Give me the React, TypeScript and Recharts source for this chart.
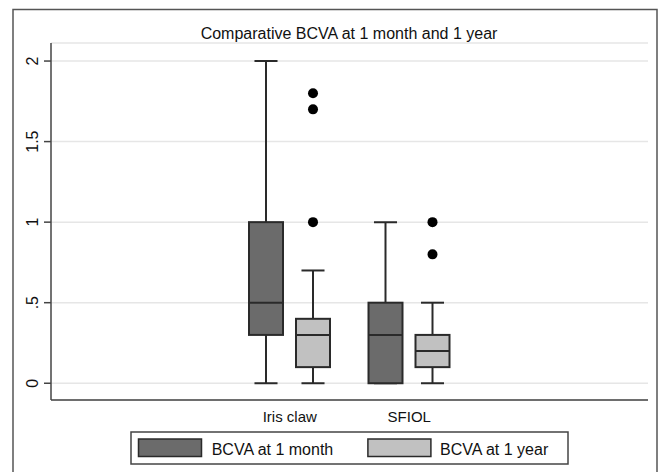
import { Bar, CartesianGrid, ComposedChart, XAxis, YAxis } from "recharts"

const categories = ["Iris claw", "SFIOL"]

// BCVA at 1 month
const monthMin = [0, 0]
const monthQ1 = [0.3, 0]
const monthMedian = [0.5, 0.3]
const monthQ3 = [1.0, 0.5]
const monthMax = [2.0, 1.0]
const monthOutliers: number[][] = [[], []]

// BCVA at 1 year
const yearMin = [0, 0]
const yearQ1 = [0.1, 0.1]
const yearMedian = [0.3, 0.2]
const yearQ3 = [0.4, 0.3]
const yearMax = [0.7, 0.5]
const yearOutliers: number[][] = [[1.0, 1.7, 1.8], [0.8, 1.0]]

const yTicks = [0, 0.5, 1, 1.5, 2]
const seriesNames = ["BCVA at 1 month", "BCVA at 1 year"]
const seriesColors = ["#6b6b6b", "#c1c1c1"]
const title = "Comparative BCVA at 1 month and 1 year"

const FONT = "'Liberation Sans', Arial, Helvetica, sans-serif"
const INK = "#2a2a2a"

const data = categories.map((name, i) => ({
  name,
  month: {
    min: monthMin[i], q1: monthQ1[i], median: monthMedian[i],
    q3: monthQ3[i], max: monthMax[i], outliers: monthOutliers[i],
  },
  year: {
    min: yearMin[i], q1: yearQ1[i], median: yearMedian[i],
    q3: yearQ3[i], max: yearMax[i], outliers: yearOutliers[i],
  },
}))

// stata style: drop the leading zero
const fmt = (v: number) => (v === 0 ? "0" : String(v).replace(/^0\./, "."))

function BoxShape(props: any) {
  const { x, y, width, height, payload, fill, statKey } = props
  const s = payload[statKey]
  // the bar spans [min, max] on the y scale, so every stat maps linearly inside it
  const toY = (v: number) => y + (height * (s.max - v)) / (s.max - s.min)
  const cx = x + width / 2
  const cap = width * 0.32
  const top = toY(s.q3)
  const bottom = toY(s.q1)

  return (
    <g>
      <line x1={cx} x2={cx} y1={toY(s.max)} y2={top} stroke={INK} strokeWidth={2} />
      <line x1={cx} x2={cx} y1={bottom} y2={toY(s.min)} stroke={INK} strokeWidth={2} />
      <line x1={cx - cap} x2={cx + cap} y1={toY(s.max)} y2={toY(s.max)} stroke={INK} strokeWidth={2} />
      <line x1={cx - cap} x2={cx + cap} y1={toY(s.min)} y2={toY(s.min)} stroke={INK} strokeWidth={2} />
      <rect x={x + 1} y={top} width={width - 2} height={bottom - top} fill={fill} stroke={INK} strokeWidth={2} />
      <line x1={x + 1} x2={x + width - 1} y1={toY(s.median)} y2={toY(s.median)} stroke={INK} strokeWidth={2} />
      {s.outliers.map((v: number, k: number) => (
        <circle key={k} cx={cx} cy={toY(v)} r={5} fill="#000" />
      ))}
    </g>
  )
}

function YTick(props: any) {
  const { x, y, payload } = props
  return (
    <text
      x={x}
      y={y}
      transform={`rotate(-90 ${x} ${y})`}
      textAnchor="middle"
      fontSize={16}
      fontFamily={FONT}
      fill="#111"
    >
      {fmt(payload.value)}
    </text>
  )
}

export default function App() {
  return (
    <div style={{ position: "absolute", left: 0, top: 0, width: 659, height: 472, background: "#fff" }}>
      <svg width={659} height={472} style={{ position: "absolute", left: 0, top: 0 }}>
        <rect x={13} y={9.5} width={644} height={470} fill="none" stroke="#555" strokeWidth={1.5} />
        <text x={349} y={39} textAnchor="middle" fontSize={16} fontFamily={FONT} fill="#111">
          {title}
        </text>
        <rect x={131} y={432} width={437} height={32} fill="#fff" stroke="#444" strokeWidth={1.5} />
        {seriesNames.map((name, i) => (
          <g key={name}>
            <rect x={138.5 + i * 229.4} y={439} width={63} height={17.5} fill={seriesColors[i]} stroke={INK} strokeWidth={1.5} />
            <text x={211.7 + i * 228.3} y={455} fontSize={16} fontFamily={FONT} fill="#111">
              {name}
            </text>
          </g>
        ))}
      </svg>
      <div style={{ position: "absolute", left: 0, top: 0 }}>
        <ComposedChart
          width={659}
          height={472}
          data={data}
          margin={{ top: 43, right: 11, bottom: 42, left: 0 }}
          barGap={11}
        >
          <CartesianGrid horizontal vertical={false} stroke="#e6e6e6" strokeWidth={1.5} />
          <XAxis
            dataKey="name"
            height={30}
            padding={{ left: 179, right: 179 }}
            tickLine={false}
            tickMargin={5}
            axisLine={{ stroke: "#444", strokeWidth: 1.5 }}
            tick={{ fontSize: 15, fill: "#111", fontFamily: FONT }}
          />
          <YAxis
            width={51}
            type="number"
            domain={[-0.104, 2.112]}
            allowDataOverflow
            ticks={yTicks}
            tickSize={7}
            tickMargin={6}
            axisLine={{ stroke: "#444", strokeWidth: 1.5 }}
            tickLine={{ stroke: "#444", strokeWidth: 1.5 }}
            tick={<YTick />}
          />
          <Bar
            name={seriesNames[0]}
            dataKey={(d: any) => [d.month.min, d.month.max]}
            fill={seriesColors[0]}
            barSize={36}
            isAnimationActive={false}
            shape={(p: any) => <BoxShape {...p} statKey="month" />}
          />
          <Bar
            name={seriesNames[1]}
            dataKey={(d: any) => [d.year.min, d.year.max]}
            fill={seriesColors[1]}
            barSize={36}
            isAnimationActive={false}
            shape={(p: any) => <BoxShape {...p} statKey="year" />}
          />
        </ComposedChart>
      </div>
    </div>
  )
}
